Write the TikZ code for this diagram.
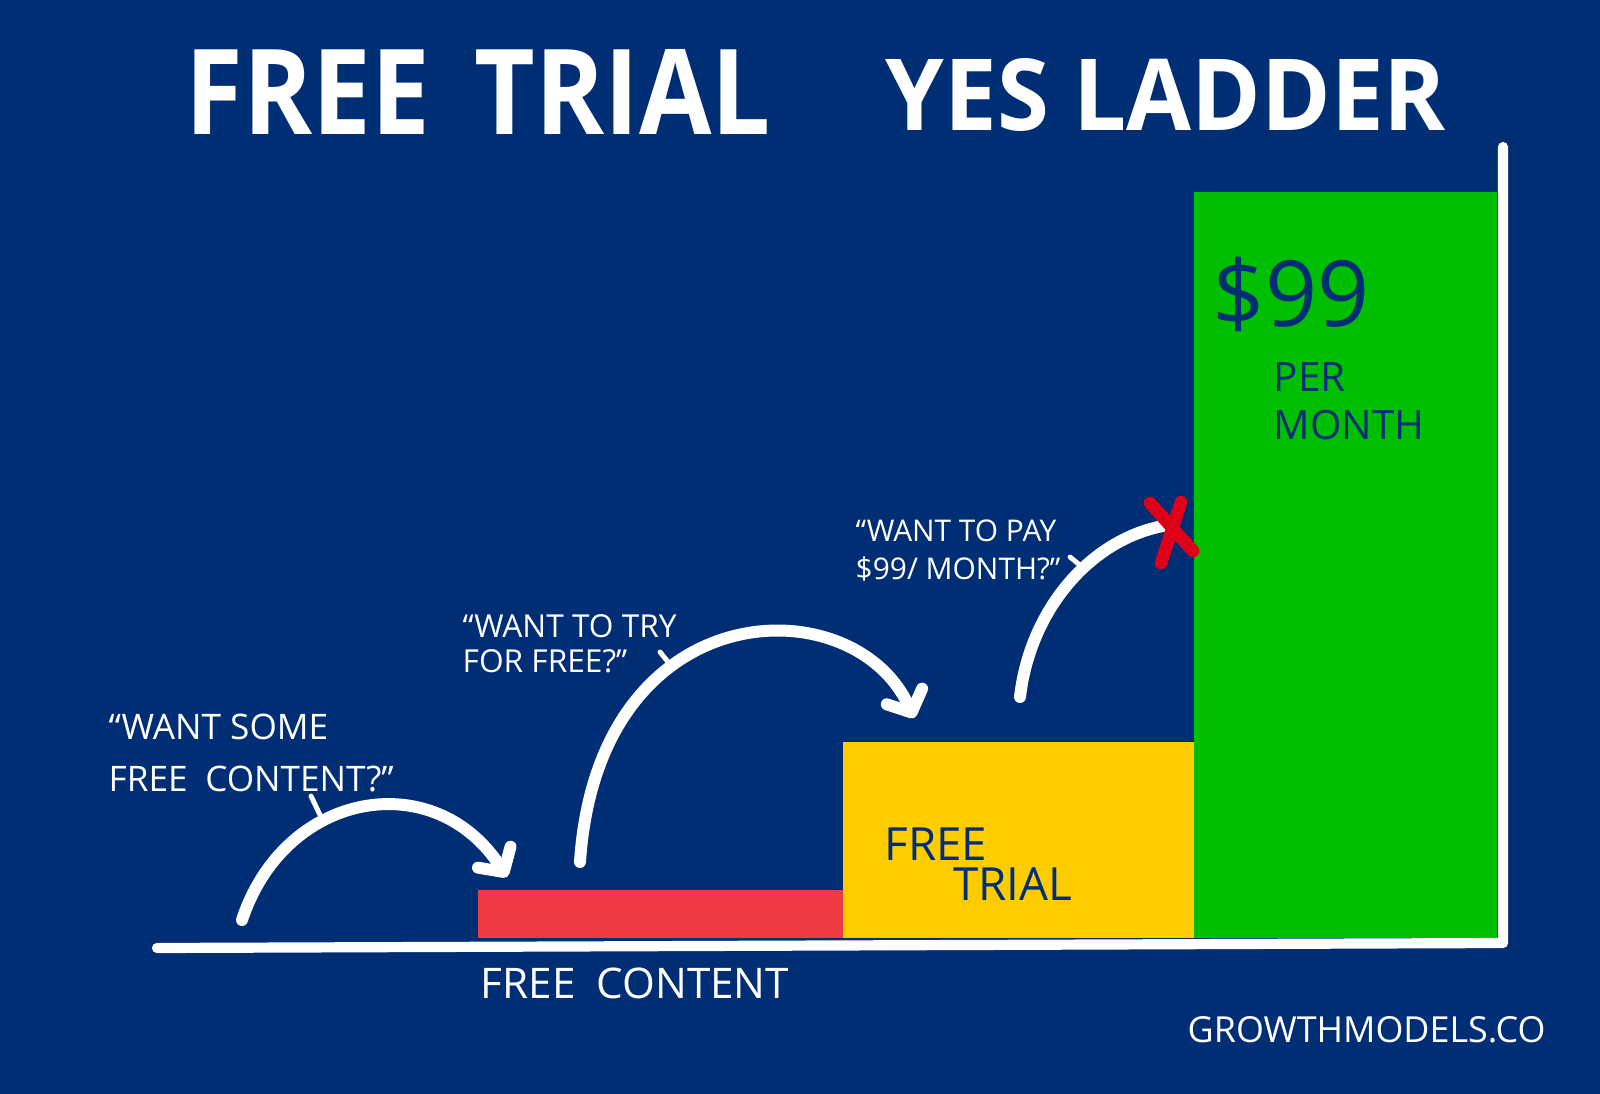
\documentclass[tikz,border=0pt]{standalone}
\usepackage{fontspec}
\setmainfont{Open Sans}
\usetikzlibrary{arrows.meta}
\definecolor{monBleu}{RGB}{0,46,117}
\definecolor{monRouge}{RGB}{238,58,67}
\definecolor{monJaune}{RGB}{255,204,0}
\definecolor{monVert}{RGB}{0,190,0}
\definecolor{rougeCroix}{RGB}{222,0,24}

\begin{document}
\begin{tikzpicture}[x=0.01cm, y=-0.01cm,
    fleche/.style={white, line width=3.4pt, line cap=round, -{Straight Barb[length=5pt, width=11pt, round]}},
    trait/.style={white, line width=3.4pt, line cap=round},
    repere/.style={white, line width=1.4pt, line cap=round},
    etiquette/.style={text=white, inner sep=0pt, anchor=north west, align=left},
    legende/.style={text=monBleu, inner sep=0pt, anchor=north west, align=left}]

    % Fond
    \fill[monBleu] (0,0) rectangle (1600,1094);

    % Titre
    \node[text=white, inner sep=0pt, anchor=south west] (titreA) at (185,135) {\resizebox{5.85cm}{0.85cm}{\bfseries FREE\, TRIAL}};
    \node[text=white, inner sep=0pt, anchor=south west] (titreB) at (885,132) {\resizebox{5.6cm}{0.72cm}{\bfseries YES LADDER}};

    % Barres
    \fill[monRouge] (478,890) rectangle (845,938);
    \fill[monJaune] (843,742) rectangle (1198,938);
    \fill[monVert] (1194,192) rectangle (1497,938);

    % Axes
    \coordinate (origine) at (157,948);
    \coordinate (coin) at (1503,943);
    \coordinate (sommet) at (1503,147);
    \draw[white, line width=2.9pt, line cap=round, line join=round] (origine) -- (coin) -- (sommet);

    % Textes des barres
    \node[etiquette, anchor=base west, font=\fontsize{12}{14}\selectfont] (etiqRouge) at (480,998) {FREE\enspace CONTENT};
    \node[legende, font=\fontsize{13}{11.5}\selectfont] (etiqJaune) at (884,827) {FREE\\\hspace*{1.5em}TRIAL};
    \node[legende, anchor=base west, font=\fontsize{26}{28}\selectfont] (prix) at (1212,326) {\$99};
    \node[legende, font=\fontsize{11.5}{13.7}\selectfont] (periode) at (1273,362) {PER\\MONTH};

    % Questions
    \node[etiquette, font=\fontsize{10}{15}\selectfont] (question1) at (108,713) {“WANT SOME\\FREE\enspace CONTENT?”};
    \node[etiquette, font=\fontsize{9}{10}\selectfont] (question2) at (462,614) {“WANT TO TRY\\FOR FREE?”};
    \node[etiquette, font=\fontsize{8.5}{10.7}\selectfont] (question3) at (855,519) {“WANT TO PAY\\\$99/ MONTH?”};

    % Fleches
    \coordinate (depart1) at (242,920);
    \coordinate (arrivee1) at (507,877);
    \draw[fleche] (depart1) .. controls (285,790) and (435,765) .. (arrivee1);
    \coordinate (depart2) at (580,862);
    \coordinate (arrivee2) at (914,718);
    \draw[fleche] (depart2) .. controls (598,590) and (855,585) .. (arrivee2);
    \coordinate (depart3) at (1020,697);
    \coordinate (arrivee3) at (1163,526);
    \draw[trait] (depart3) .. controls (1030,610) and (1090,540) .. (arrivee3);

    % Reperes vers les fleches
    \coordinate (q1a) at (311,796);
    \coordinate (q1b) at (320,815);
    \draw[repere] (q1a) -- (q1b);
    \coordinate (q2a) at (660,652);
    \coordinate (q2b) at (672,667);
    \draw[repere] (q2a) -- (q2b);
    \coordinate (q3a) at (1070,557);
    \coordinate (q3b) at (1081,566);
    \draw[repere] (q3a) -- (q3b);

    % Croix
    \draw[rougeCroix, line width=3.6pt, line cap=round] (1150,503) -- (1193,551) (1181,502) -- (1161,563);

    % Site
    \node[etiquette, anchor=base west, font=\fontsize{10.2}{12}\selectfont] (site) at (1187,1042) {GROWTHMODELS.CO};
\end{tikzpicture}
\end{document}
